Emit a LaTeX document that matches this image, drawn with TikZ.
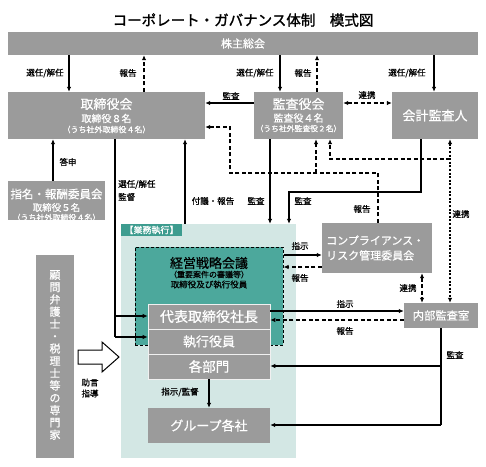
\documentclass[tikz,border=0pt]{standalone}
\usepackage{fontspec}
\setmainfont{Noto Sans CJK JP}[FakeBold=0.6]
\newfontfamily\titlefont{Noto Sans CJK JP}[FakeBold=1.6]
\usetikzlibrary{arrows.meta}
\definecolor{boxgray}{HTML}{9B9B9B}
\definecolor{tealbox}{HTML}{4CA89C}
\definecolor{tealtab}{HTML}{3D9C8F}
\definecolor{lightteal}{HTML}{D3E7E4}
\newcommand\fz[2]{\fontsize{#1}{#2}\selectfont}
\begin{document}
\begin{tikzpicture}[x=1pt,y=-1pt,
  gbox/.style={fill=boxgray, draw=none, text=white, align=center, inner sep=0},
  wtxt/.style={text=white, inner sep=0, align=center},
  lbl/.style={font=\fz{8.5}{10}, inner sep=0, text=black},
  ln/.style={line width=1.1pt, black},
  arr/.style={ln, -{Latex[length=5pt,width=4.5pt]}},
  dsh/.style={dash pattern=on 4pt off 2.5pt},
  dotl/.style={dash pattern=on 2pt off 1.6pt},
  both/.style={ln, {Latex[length=5pt,width=4.5pt]}-{Latex[length=5pt,width=4.5pt]}}]
\useasboundingbox[fill=white] (0,0) rectangle (486,466);

% title
\node[inner sep=0, font=\titlefont\fz{14.5}{16}] (title) at (243,20) {コーポレート・ガバナンス体制　模式図};

% top boxes
\node[gbox, minimum width=470, minimum height=23, font=\fz{11}{12}] (kabu) at (243,43.5) {株主総会};
\node[gbox, minimum width=197, minimum height=47] (tori) at (106.5,115.5) {};
\node[wtxt, font=\fz{13}{14}] (toriT) at (106.5,104) {取締役会};
\node[wtxt, font=\fz{10}{11}] (toriA) at (106.5,118.5) {取締役８名};
\node[wtxt, font=\fz{8}{9}] (toriB) at (106.5,129.5) {（うち社外取締役４名）};

\node[gbox, minimum width=89, minimum height=47] (kansa) at (298.5,115.5) {};
\node[wtxt, font=\fz{13}{14}] (kansaT) at (298.5,104) {監査役会};
\node[wtxt, font=\fz{10}{11}] (kansaA) at (298.5,118) {監査役４名};
\node[wtxt, font=\fz{7.8}{9}] (kansaB) at (298.5,128.5) {（うち社外監査役２名）};

\node[gbox, minimum width=86, minimum height=47, font=\fz{13}{14}] (kaikei) at (435,115.5) {会計監査人};

\node[gbox, minimum width=97, minimum height=39] (shimei) at (56.5,200.5) {};
\node[wtxt, font=\fz{11.5}{13}] (shimeiT) at (56.5,194) {指名・報酬委員会};
\node[wtxt, font=\fz{9.5}{11}] (shimeiA) at (56.5,207.5) {取締役５名};
\node[wtxt, font=\fz{8}{9}] (shimeiB) at (56.5,217.5) {（うち社外取締役４名）};

% business execution area
\node[fill=lightteal, draw=none, minimum width=175, minimum height=234, inner sep=0] (gyomu) at (208.5,341) {};
\node[fill=tealtab, text=white, inner sep=0, minimum width=61, minimum height=12, font=\fz{9}{10}] (tab) at (151.5,230) {【業務執行】};
\node[fill=tealbox, draw=black, line width=1pt, dash pattern=on 3pt off 2pt, minimum width=148, minimum height=98, inner sep=0] (senryaku) at (209,296) {};
\node[inner sep=0, font=\fz{13}{14}] (senT) at (209,263) {経営戦略会議};
\node[inner sep=0, font=\fz{8}{9}] (senA) at (209,274.5) {（重要案件の審議等）};
\node[inner sep=0, font=\fz{8.5}{9}] (senB) at (209,284.5) {取締役及び執行役員};

\node[gbox, draw=white!85!boxgray, line width=.6pt, minimum width=122, minimum height=25, font=\fz{14}{15}] (daihyo) at (209,316.5) {代表取締役社長};
\node[gbox, draw=white!85!boxgray, line width=.6pt, minimum width=122, minimum height=25, font=\fz{13}{14}] (shikko) at (209,341.5) {執行役員};
\node[gbox, draw=white!85!boxgray, line width=.6pt, minimum width=122, minimum height=25, font=\fz{13.5}{14}] (kakubu) at (209,366.5) {各部門};
\node[gbox, minimum width=122, minimum height=35, font=\fz{13}{14}] (group) at (209,425.5) {グループ各社};

% right boxes
\node[gbox, minimum width=110, minimum height=50] (comp) at (377,248) {};
\node[wtxt, align=left, anchor=west, font=\fz{11}{15}] (compT) at (326,248) {コンプライアンス・\\リスク管理委員会};
\node[gbox, minimum width=74, minimum height=25, font=\fz{11.3}{12}] (naibu) at (441,315.5) {内部監査室};

% advisors
\node[gbox, minimum width=38, minimum height=203] (komon) at (55,356.5) {};
\node[wtxt, font=\fz{11}{12.3}] (komonT) at (55,355) {顧\\問\\弁\\護\\士\\・\\税\\理\\士\\等\\の\\専\\門\\家};
\draw[line width=1pt, fill=white] (78,350) -- (102,350) -- (102,342) -- (119,357) -- (102,372) -- (102,364) -- (78,364) -- cycle;
\node[lbl, align=center, font=\fz{8.5}{11}] (jogen) at (90,388) {助言\\指導};

% shareholders connectors
\draw[arr] (kabu.south -| 69,0) -- (tori.north -| 69,0);
\node[lbl] (l1) at (45,73) {選任/解任};
\draw[arr, dsh] (tori.north -| 144,0) -- (kabu.south -| 144,0);
\node[lbl] (l2) at (128,73) {報告};
\draw[arr] (kabu.south -| 280,0) -- (kansa.north -| 280,0);
\node[lbl] (l3) at (255,73) {選任/解任};
\draw[arr, dsh] (kansa.north -| 317,0) -- (kabu.south -| 317,0);
\node[lbl] (l4) at (303,73) {報告};
\draw[arr] (kabu.south -| 434,0) -- (kaikei.north -| 434,0);
\node[lbl] (l5) at (407,73) {選任/解任};

% between top boxes
\draw[arr] (kansa.west |- 0,103) -- (tori.east |- 0,103);
\node[lbl] (l6) at (231,96) {監査};
\draw[both, dsh] (kansa.east |- 0,103) -- (kaikei.west |- 0,103);
\node[lbl] (l7) at (367,95) {連携};

% compliance report
\coordinate (cj) at (316,173);
\draw[arr, dsh] (comp.north -| 378,0) -- (378,173) -- (230,173) -- (230,127) -- (tori.east |- 0,127);
\draw[arr, dsh] (cj) -- (kansa.south -| cj);
\node[lbl] (l8) at (362,209) {報告};

% internal audit coordination
\coordinate (ij) at (450,159);
\draw[both, dotl] (kaikei.south -| 450,0) -- (naibu.north -| 450,0);
\draw[arr, dsh] (ij) -- (330,159) -- (kansa.south -| 330,0);
\node[lbl] (l9) at (461,214) {連携};

% audits into business execution
\draw[arr] (kaikei.south -| 421,0) -- (421,192) -- (289,192) -- (gyomu.north -| 289,0);
\node[lbl] (l10) at (303,201) {監査};
\draw[arr] (kansa.south -| 270,0) -- (gyomu.north -| 270,0);
\node[lbl] (l11) at (256,201) {監査};
\draw[arr] (gyomu.north -| 185,0) -- (tori.south -| 185,0);
\node[lbl] (l12) at (213,201) {付議・報告};

% board supervision
\coordinate (bj) at (115,337);
\draw[ln] (tori.south -| bj) -- (bj);
\draw[arr] (115,316) -- (daihyo.west |- 0,316);
\draw[arr] (bj) -- (shikko.west |- bj);
\node[lbl, align=left, anchor=west, font=\fz{8.5}{13}] (l13) at (118,190.5) {選任/解任\\監督};

% nomination
\draw[arr] (shimei.north -| 53,0) -- (tori.south -| 53,0);
\node[lbl] (l14) at (68,162) {答申};

% strategy <-> compliance
\draw[arr] (senryaku.east |- 0,255) -- (comp.west |- 0,255);
\node[lbl] (l15) at (300,246) {指示};
\draw[arr, dsh] (comp.west |- 0,267) -- (senryaku.east |- 0,267);
\node[lbl] (l16) at (300,278) {報告};
\draw[both, dsh] (comp.south -| 422,0) -- (naibu.north -| 422,0);
\node[lbl] (l17) at (408,288) {連携};

% president <-> internal audit
\draw[arr] (daihyo.east |- 0,311) -- (naibu.west |- 0,311);
\node[lbl] (l18) at (345,304) {指示};
\draw[arr, dsh] (naibu.west |- 0,320) -- (daihyo.east |- 0,320);
\node[lbl] (l19) at (345,331) {報告};

% internal audit
\coordinate (aj) at (441,425);
\draw[ln] (naibu.south -| aj) -- (aj);
\draw[arr] (aj) -- (group.east |- aj);
\draw[arr] (441,366) -- (kakubu.east |- 0,366);
\node[lbl] (l20) at (455,355) {監査};

% departments to group
\draw[arr] (kakubu.south) -- (group.north);
\node[lbl] (l21) at (180,392) {指示/監督};
\end{tikzpicture}
\end{document}
